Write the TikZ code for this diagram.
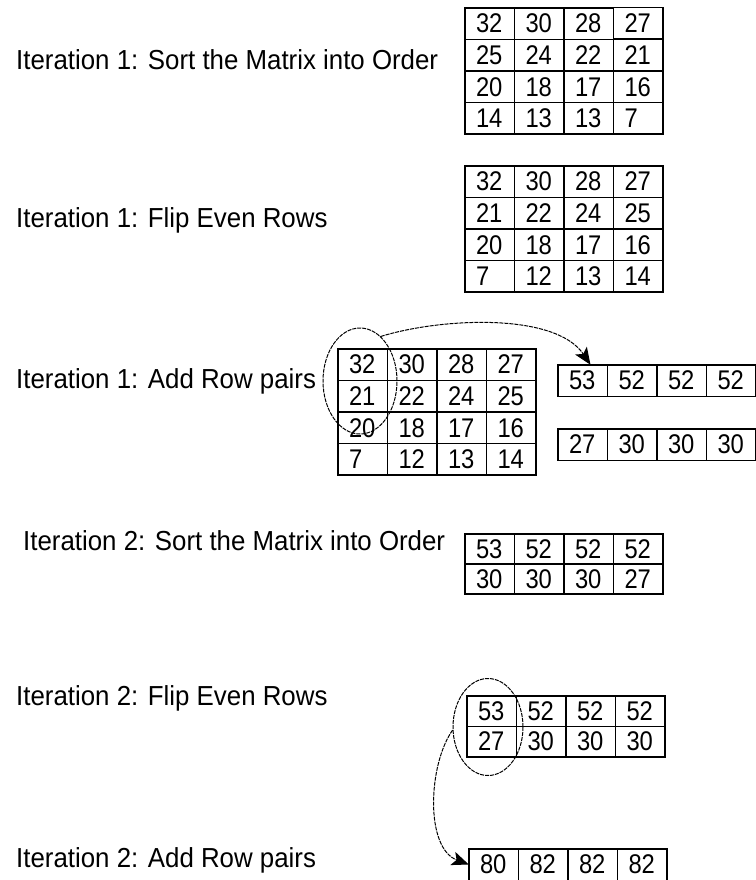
\documentclass[tikz,border=0pt]{standalone}
\usepackage{fontspec}
\setmainfont{Liberation Sans}
\newfontfamily\labelfont[FakeStretch=0.94]{Liberation Sans}
\newfontfamily\cellfont[FakeStretch=0.88]{Liberation Sans}
\usetikzlibrary{shapes.geometric, arrows.meta, matrix}

\begin{document}
\begin{tikzpicture}[
    x=1pt, y=-1pt,
    label/.style={anchor=west, inner sep=0pt, font=\labelfont\fontsize{27.5}{30}\selectfont},
    cell/.style={draw=black, line width=1.5pt, minimum width=49.5pt, minimum height=31.5pt, inner sep=0pt, text width=27pt, align=left, font=\cellfont\fontsize{27}{27}\selectfont},
    grid/.style={matrix of nodes, anchor=north west, inner sep=0pt, outer sep=0pt, column sep=-1.5pt, row sep=-1.5pt, nodes={cell}},
    oval/.style={ellipse, draw=black, line width=1pt, dash pattern=on 4pt off 1pt, inner sep=0pt},
    link/.style={-{Stealth[length=17pt, width=14pt, inset=4pt]}, line width=1pt, dash pattern=on 4pt off 1pt}
]
\useasboundingbox (0,0) rectangle (755,880);

% LABELS
\node[label] (txtA) at (16,60) {Iteration 1: Sort the Matrix into Order};
\node[label] (txtB) at (16,220) {Iteration 1: Flip Even Rows};
\node[label] (txtC) at (16,381) {Iteration 1: Add Row pairs};
\node[label] (txtD) at (23,541) {Iteration 2: Sort the Matrix into Order};
\node[label] (txtE) at (16,698) {Iteration 2: Flip Even Rows};
\node[label] (txtF) at (16,860) {Iteration 2: Add Row pairs};

% MATRICES
\matrix[grid] (sortA) at (464,7) {
  32 & 30 & 28 & 27 \\
  25 & 24 & 22 & 21 \\
  20 & 18 & 17 & 16 \\
  14 & 13 & 13 & 7 \\
};
\matrix[grid] (flipA) at (464,165) {
  32 & 30 & 28 & 27 \\
  21 & 22 & 24 & 25 \\
  20 & 18 & 17 & 16 \\
  7 & 12 & 13 & 14 \\
};
\matrix[grid] (addA) at (337,348) {
  32 & 30 & 28 & 27 \\
  21 & 22 & 24 & 25 \\
  20 & 18 & 17 & 16 \\
  7 & 12 & 13 & 14 \\
};
\matrix[grid] (pairA) at (557,364) {
  53 & 52 & 52 & 52 \\
};
\matrix[grid] (pairB) at (557,428) {
  27 & 30 & 30 & 30 \\
};
\matrix[grid, nodes={minimum height=30pt}] (sortB) at (464,533) {
  53 & 52 & 52 & 52 \\
  30 & 30 & 30 & 27 \\
};
\matrix[grid, nodes={minimum height=30.5pt}] (flipB) at (466,695) {
  53 & 52 & 52 & 52 \\
  27 & 30 & 30 & 30 \\
};
\matrix[grid] (addB) at (468,848) {
  80 & 82 & 82 & 82 \\
};

% OVALS
\node[oval, minimum width=74pt, minimum height=106pt] (ovalA) at (360,381) {};
\node[oval, minimum width=70pt, minimum height=97pt] (ovalB) at (488,727) {};

% ARROWS
\draw[link] (ovalA.65) .. controls (440,318) and (555,312) .. ([xshift=8pt]pairA-1-1.north);
\draw[link] (ovalB.185) .. controls (428,765) and (425,848) .. (addB-1-1.west);

\end{tikzpicture}
\end{document}
